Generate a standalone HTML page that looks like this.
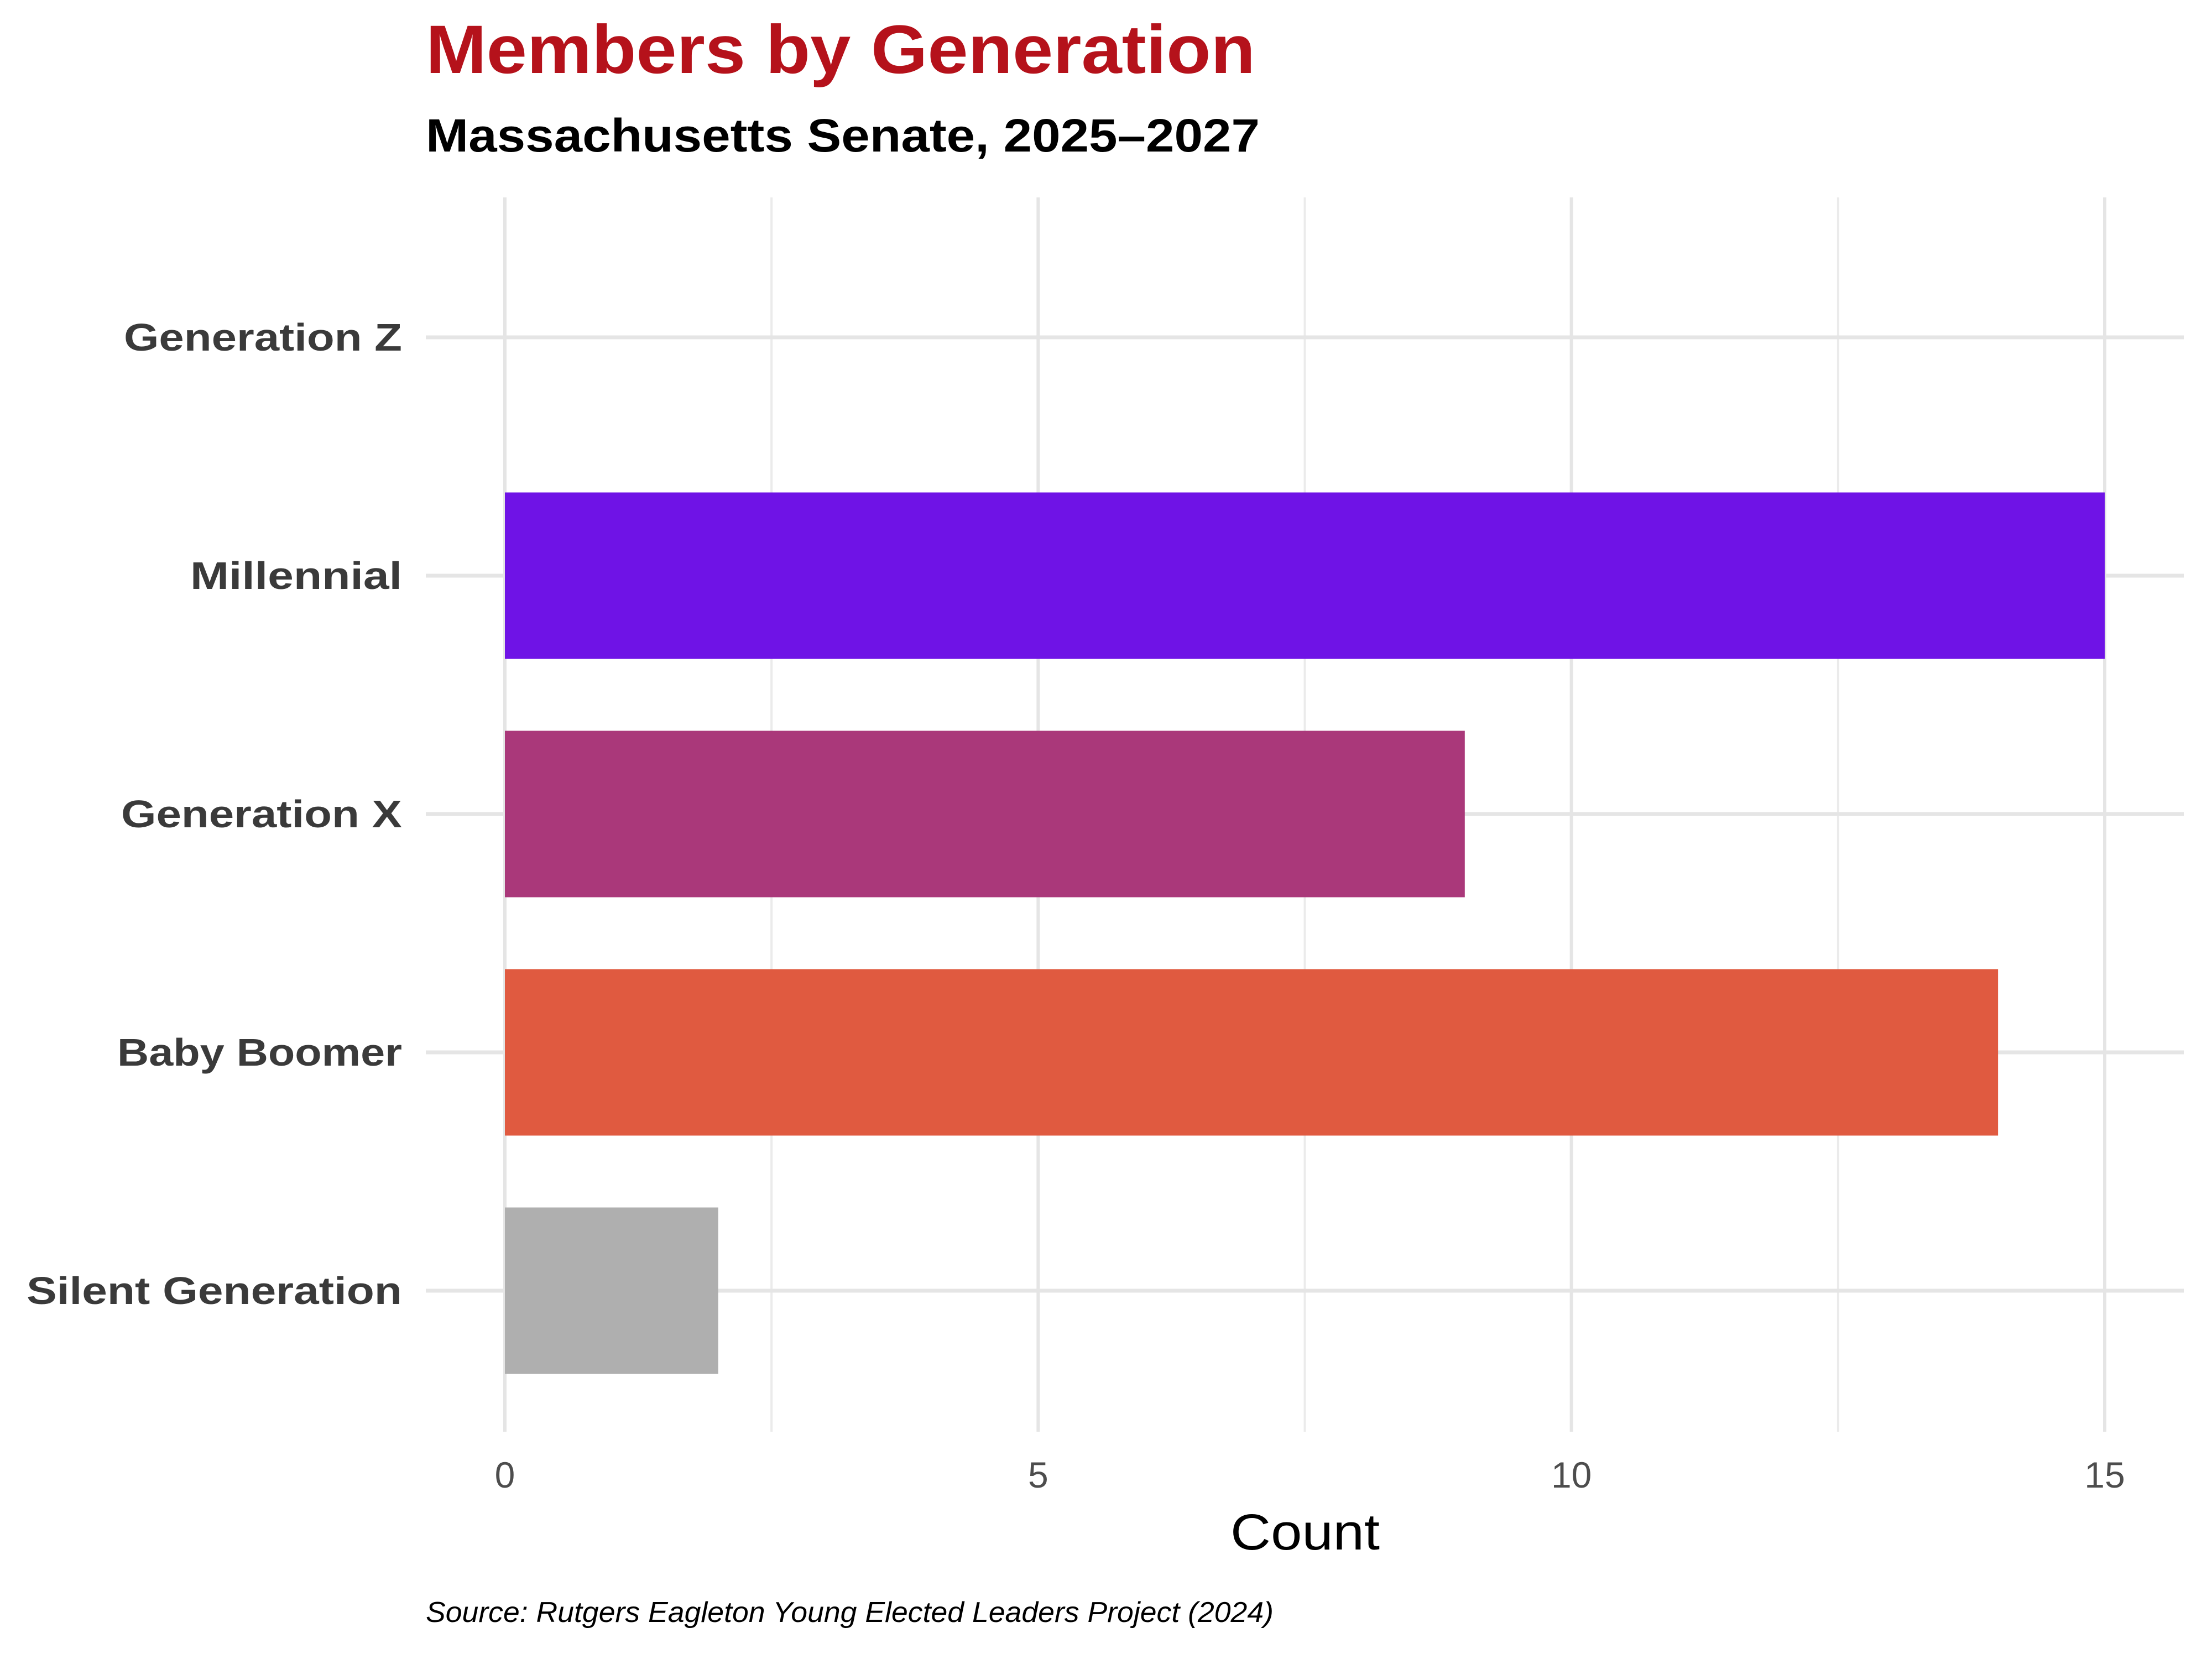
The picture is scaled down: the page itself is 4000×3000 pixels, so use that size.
<!DOCTYPE html>
<html><head><meta charset="utf-8"><style>
html,body{margin:0;padding:0;background:#fff;}
svg{display:block;font-family:"Liberation Sans",sans-serif;}
</style></head><body>
<svg id="chart" width="4000" height="3000" viewBox="0 0 4000 3000" xmlns="http://www.w3.org/2000/svg">
<rect width="4000" height="3000" fill="#fff"/>
<g id="grid"></g>
<g id="bars"></g>
<g id="labels"></g>
<text x="770" y="132" font-size="124" font-weight="bold" fill="#B5121B" textLength="1500" lengthAdjust="spacingAndGlyphs">Members by Generation</text>
<text x="770" y="274" font-size="84" font-weight="bold" fill="#000" textLength="1508" lengthAdjust="spacingAndGlyphs">Massachusetts Senate, 2025–2027</text>
<text x="2360" y="2802" font-size="92" text-anchor="middle" fill="#000" textLength="270" lengthAdjust="spacingAndGlyphs">Count</text>
<text x="770" y="2933" font-size="52" font-style="italic" fill="#000" textLength="1533" lengthAdjust="spacingAndGlyphs">Source: Rutgers Eagleton Young Elected Leaders Project (2024)</text>
</svg>
<script>
const categories = ["Generation Z","Millennial","Generation X","Baby Boomer","Silent Generation"];
const counts = [0,15,9,14,2];
const colors = ["#6F13E6","#6F13E6","#AA387A","#E05A40","#AFAFAF"];
const majorTicks = [0,5,10,15];
const minorTicks = [2.5,7.5,12.5];
const tickLabels = ["0","5","10","15"];

const labelWidths = [503,383,508,515,679];
const NS="http://www.w3.org/2000/svg";
const x0=913, unit=(3806-913)/15;
const xs=v=>x0+v*unit;
const yTop=1041, yStep=(2334-1041)/3;
const ys=i=>yTop+(i-1)*yStep;
const panelTop=357, panelBottom=2589, panelLeft=770, panelRight=3949;
const bandH=301;
function mk(tag,attrs,parent){const e=document.createElementNS(NS,tag);for(const k in attrs)e.setAttribute(k,attrs[k]);parent.appendChild(e);return e;}
const grid=document.getElementById('grid'),bars=document.getElementById('bars'),labels=document.getElementById('labels');
minorTicks.forEach(v=>{
  const l=mk('line',{x1:xs(v),x2:xs(v),y1:panelTop,y2:panelBottom,stroke:'#EBEBEB','stroke-width':4},grid);
  
  
});
majorTicks.forEach((v,i)=>{
  const l=mk('line',{x1:xs(v),x2:xs(v),y1:panelTop,y2:panelBottom,stroke:'#E5E5E5','stroke-width':6},grid);
  
  
  const t=mk('text',{x:xs(v),y:2690,'font-size':66,'text-anchor':'middle',fill:'#4D4D4D'},labels);
  t.textContent=tickLabels[i];
  
  
});
categories.forEach((c,i)=>{
  const y=ys(i);
  const g=mk('line',{x1:panelLeft,x2:panelRight,y1:y,y2:y,stroke:'#E5E5E5','stroke-width':7},grid);
  
  
  if(counts[i]>0){
    const r=mk('rect',{x:xs(0),y:y-bandH/2,width:xs(counts[i])-xs(0),height:bandH,fill:colors[i]},bars);
    
    
  }
  const t=mk('text',{x:727,y:y+24,'font-size':70,'font-weight':'bold','text-anchor':'end',fill:'#3A3A3A',textLength:labelWidths[i],lengthAdjust:'spacingAndGlyphs'},labels);
  t.textContent=c;
  
  
});
</script>
</body></html>
